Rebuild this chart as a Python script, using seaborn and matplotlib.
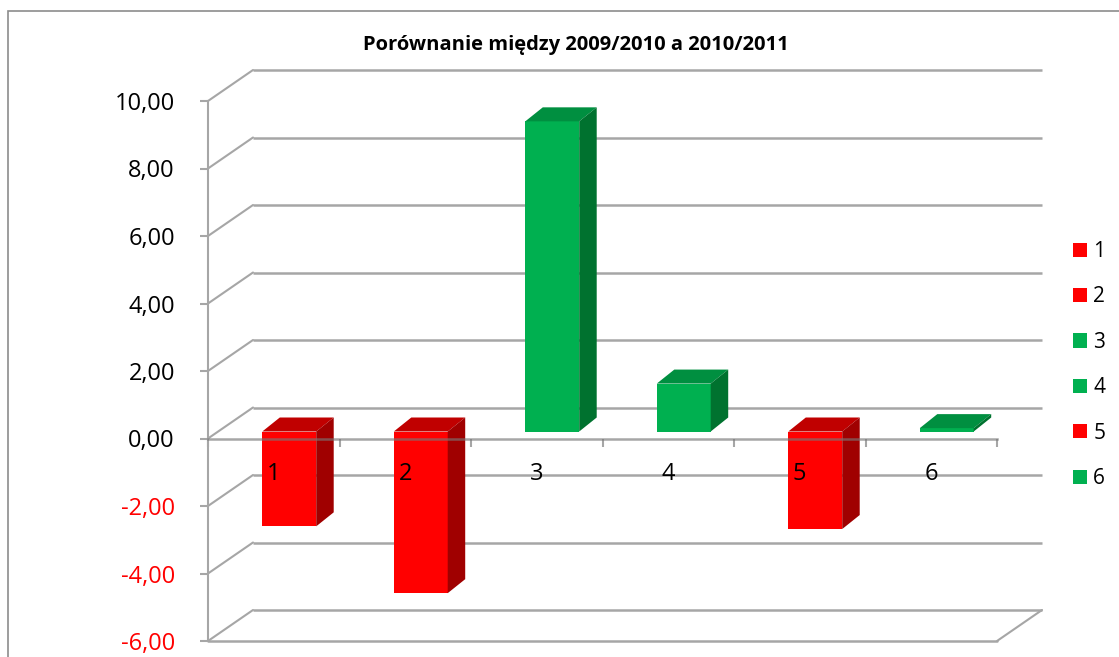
import numpy as np
import pandas as pd
import matplotlib
matplotlib.use("Agg")
import matplotlib.pyplot as plt
import seaborn as sns

# data
categories = ["1", "2", "3", "4", "5", "6"]
values = [-2.81, -4.79, 9.19, 1.42, -2.89, 0.10]
y_ticks = [-6, -4, -2, 0, 2, 4, 6, 8, 10]
title = "Porównanie między 2009/2010 a 2010/2011"

RED, GREEN = "#FF0000", "#00B050"
RED_TOP, RED_SIDE = "#C00000", "#A00000"
GREEN_TOP, GREEN_SIDE = "#008F40", "#00722F"
GRID = "#A6A6A6"

sns.set_style("white")
plt.rcParams["font.family"] = ["Open Sans", "DejaVu Sans"]
plt.rcParams["text.color"] = "black"

df = pd.DataFrame({"cat": categories, "val": values})
palette = {c: (RED if v < 0 else GREEN) for c, v in zip(categories, values)}

W, H = 1119, 657
fig = plt.figure(figsize=(W / 100, H / 100), dpi=100)
ax = fig.add_axes([208 / W, (H - 641) / H, 789 / W, 540 / H])

sns.barplot(data=df, x="cat", y="val", hue="cat", palette=palette, width=0.41,
            linewidth=0, saturation=1, legend=True, ax=ax, zorder=2)

ax.set_xlim(-0.5, 5.5)
ax.set_ylim(-6, 10)

# depth of the walls and position / depth of the bars (in data units)
DX, DY = 45 / 131.5, 31 / 33.75
OX, OY = 15.5 / 131.5, 7 / 33.75
BDX, BDY = 17.5 / 131.5, 14 / 33.75

# back wall gridlines and side wall diagonals
x0, x1 = -0.5, 5.5
for v in y_ticks:
    ax.plot([x0 + DX, x1 + DX], [v + DY, v + DY], color=GRID, lw=1.8,
            zorder=0.5, clip_on=False, solid_capstyle="butt")
    ax.plot([x0, x0 + DX], [v, v + DY], color=GRID, lw=1.5,
            zorder=0.5, clip_on=False)
# floor front edge and right edge
ax.plot([x0, x1], [-6, -6], color=GRID, lw=1.8, zorder=0.5, clip_on=False)
ax.plot([x1, x1 + DX], [-6, -6 + DY], color=GRID, lw=1.5, zorder=0.5, clip_on=False)

# 3D faces of bars
for patch, v in zip(ax.patches, values):
    patch.set_x(patch.get_x() + OX)
    patch.set_y(patch.get_y() + OY)
    bx0 = patch.get_x()
    bx1 = bx0 + patch.get_width()
    lo, hi = min(v, 0) + OY, max(v, 0) + OY
    top_c, side_c = (RED_TOP, RED_SIDE) if v < 0 else (GREEN_TOP, GREEN_SIDE)
    ax.fill([bx0, bx1, bx1 + BDX, bx0 + BDX], [hi, hi, hi + BDY, hi + BDY],
            color=top_c, lw=0, zorder=2)
    ax.fill([bx1, bx1, bx1 + BDX, bx1 + BDX], [lo, hi, hi + BDY, lo + BDY],
            color=side_c, lw=0, zorder=2)

# axes styling
for s in ["top", "right"]:
    ax.spines[s].set_visible(False)
ax.spines["left"].set_color(GRID)
ax.spines["left"].set_linewidth(1.5)
ax.spines["bottom"].set_position(("data", 0))
ax.spines["bottom"].set_color("#777777")
ax.spines["bottom"].set_alpha(0.65)
ax.spines["bottom"].set_linewidth(1.8)
ax.spines["bottom"].set_zorder(3)
ax.set_axisbelow(False)

ax.set_yticks(y_ticks)
ax.set_yticklabels([f"{t:.2f}".replace(".", ",") for t in y_ticks])
ax.tick_params(axis="y", left=True, direction="out", length=5.8, width=1.5,
               color=GRID, labelsize=17, pad=18, labelcolor="black")
for lab, t in zip(ax.get_yticklabels(), y_ticks):
    lab.set_color(RED if t < 0 else "black")

ax.set_xticks(np.arange(-0.5, 6, 1))
ax.set_xticklabels([])
ax.set_xticks(range(len(categories)), labels=categories, minor=True)
ax.tick_params(axis="x", which="major", bottom=True, direction="out",
               length=5.8, width=1.5, color=GRID)
ax.tick_params(axis="x", which="minor", bottom=True, length=0, labelsize=17,
               pad=17, labelcolor="black")
ax.set_xlabel("")
ax.set_ylabel("")

fig.text(576 / W, 1 - 45 / H, title, ha="center", va="center",
         fontsize=14.5, fontweight="bold", color="black")

sns.move_legend(ax, loc="center left", bbox_to_anchor=(1073 / W, 1 - 365 / H),
                bbox_transform=fig.transFigure, frameon=False, title=None,
                fontsize=15, labelspacing=1.17, handlelength=0.67,
                handleheight=0.67, handletextpad=0.3, borderpad=0,
                borderaxespad=0, labelcolor="black")

# chart border
fig.add_artist(plt.Rectangle((8 / W, -0.05), 1.2, 1.05 - 11 / H,
                             transform=fig.transFigure, fill=False,
                             edgecolor="#8C8C8C", lw=1.2))

fig.savefig("out.png", dpi=100)
